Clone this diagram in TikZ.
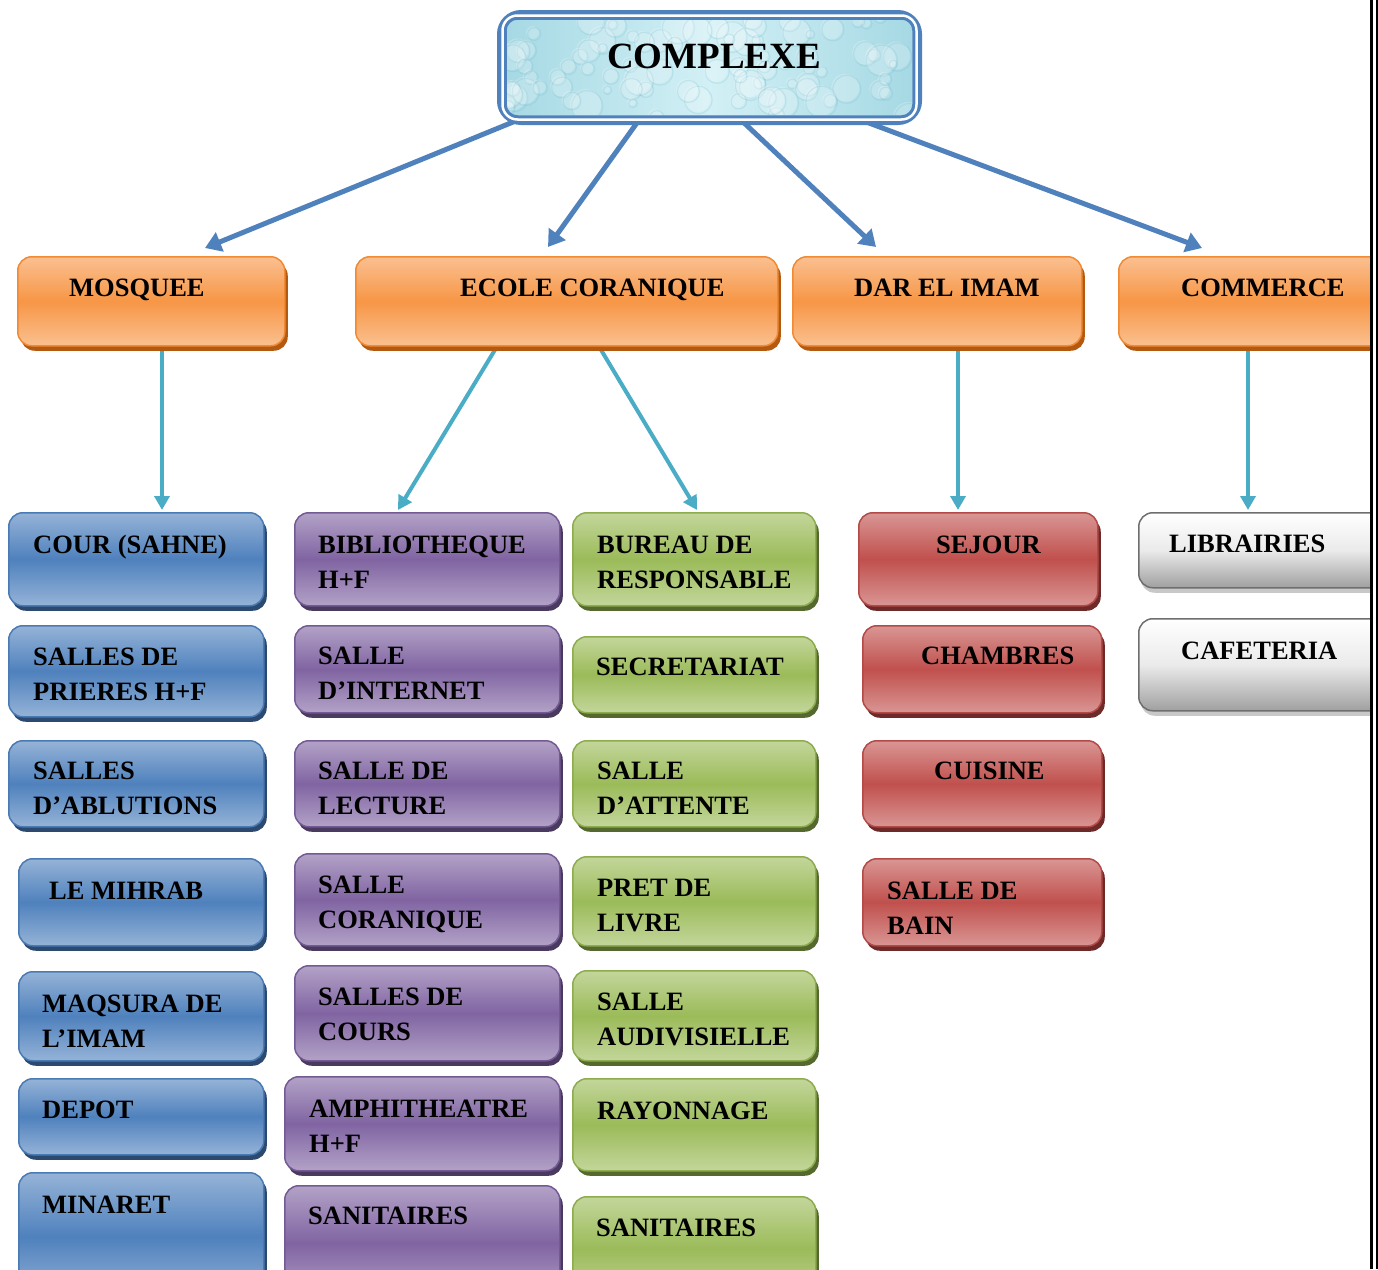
\documentclass[tikz,border=0pt]{standalone}
\usepackage{fontspec}
\setmainfont{Liberation Serif}
\usetikzlibrary{arrows.meta,shadows,backgrounds}
\definecolor{bluelt}{HTML}{95B3D7}\definecolor{bluemd}{HTML}{4F81BD}\definecolor{bluebd}{HTML}{4A7AB4}\definecolor{bluesh}{HTML}{2C4A70}
\definecolor{purplt}{HTML}{B3A2C7}\definecolor{purpmd}{HTML}{8064A2}\definecolor{purpbd}{HTML}{735A94}\definecolor{purpsh}{HTML}{4A3A5F}
\definecolor{grnlt}{HTML}{C3D69B}\definecolor{grnmd}{HTML}{9BBB59}\definecolor{grnbd}{HTML}{8CAC4E}\definecolor{grnsh}{HTML}{55692E}
\definecolor{redlt}{HTML}{D99694}\definecolor{redmd}{HTML}{C0504D}\definecolor{redbd}{HTML}{B34A47}\definecolor{redsh}{HTML}{6E2A28}
\definecolor{orlt}{HTML}{FAC090}\definecolor{ormd}{HTML}{F79646}\definecolor{orbd}{HTML}{F08A35}\definecolor{orsh}{HTML}{B35A10}
\definecolor{graybt}{HTML}{A0A0A0}\definecolor{graybd}{HTML}{6E6E6E}\definecolor{graysh}{HTML}{C8C8C8}
\definecolor{cxblue}{HTML}{4F81BD}\definecolor{cxfill}{HTML}{BCE5EE}
\definecolor{cxleft}{HTML}{A6D9E4}\definecolor{cxmid}{HTML}{D2F0F5}\definecolor{cxring}{HTML}{6FB9CC}
\definecolor{arrblue}{HTML}{4F81BD}\definecolor{arrteal}{HTML}{4BACC6}
\tikzset{
  x=1pt,y=-1pt,
  box/.style={rounded corners=14pt, line width=1.5pt, inner sep=0pt},
  bluebox/.style={box, draw=bluebd, top color=bluelt, bottom color=bluelt, middle color=bluemd,
     drop shadow={shadow xshift=3pt, shadow yshift=-5pt, fill=bluesh, opacity=1}},
  purpbox/.style={box, draw=purpbd, top color=purplt, bottom color=purplt, middle color=purpmd,
     drop shadow={shadow xshift=3pt, shadow yshift=-5pt, fill=purpsh, opacity=1}},
  grnbox/.style={box, draw=grnbd, top color=grnlt, bottom color=grnlt, middle color=grnmd,
     drop shadow={shadow xshift=3pt, shadow yshift=-5pt, fill=grnsh, opacity=1}},
  redbox/.style={box, draw=redbd, top color=redlt, bottom color=redlt, middle color=redmd,
     drop shadow={shadow xshift=3pt, shadow yshift=-5pt, fill=redsh, opacity=1}},
  orbox/.style={box, draw=orbd, top color=orlt, bottom color=orlt, middle color=ormd,
     drop shadow={shadow xshift=3pt, shadow yshift=-5pt, fill=orsh, opacity=1}},
  graybox/.style={box, draw=graybd, top color=white, bottom color=graybt, middle color=white!92!black,
     drop shadow={shadow xshift=2pt, shadow yshift=-5pt, fill=graysh, opacity=1}},
  lbl/.style={anchor=base west, inner sep=0pt, align=left, font=\bfseries\fontsize{26.5}{35}\selectfont},
  bigarr/.style={draw=arrblue, line width=5pt, -{Triangle[length=16pt,width=20pt]}},
  smallarr/.style={draw=arrteal, line width=4pt, -{Triangle[length=14pt,width=15pt]}},
}
\newcommand\bx[6]{\node[#2, anchor=north west, minimum width={(#5)-(#3)}, minimum height={(#6)-(#4)}] (#1) at (#3,#4) {};}
% #2 = x, #3 = baseline of the LAST line
\newcommand\lb[4]{\node[lbl] (#1) at (#2,#3) {#4};}
\begin{document}
\begin{tikzpicture}
\useasboundingbox (0,0) rectangle (1378,1269);
\begin{scope}
\clip (0,0) rectangle (1370,1269);
% top box
\node[draw=cxblue, line width=8pt, rounded corners=20pt, fill=cxfill, minimum width=417pt, minimum height=107pt, inner sep=0pt] (cx) at (709.5,67.5) {};
\begin{scope}
\clip[rounded corners=11pt] ([shift={(10pt,-10pt)}]cx.north west) rectangle ([shift={(-10pt,10pt)}]cx.south east);
\shade[left color=cxleft, right color=cxleft, middle color=cxmid] ([shift={(10pt,-10pt)}]cx.north west) rectangle ([shift={(-10pt,10pt)}]cx.south east);
\pgfmathsetseed{11}
\foreach \i in {1,...,90}{
  \pgfmathsetmacro\px{505+rnd*410}
  \pgfmathsetmacro\py{15+rnd*105}
  \pgfmathsetmacro\pr{4+rnd*12}
  \fill[white, opacity=0.22] (\px,\py) circle[radius=\pr];
  \draw[cxring, opacity=0.22, line width=1.2pt] (\px+1.5,\py+1.5) circle[radius=\pr];
}
\end{scope}
\draw[white, line width=2.5pt, rounded corners=15pt] ([shift={(5.5pt,-5.5pt)}]cx.north west) rectangle ([shift={(-5.5pt,5.5pt)}]cx.south east);
\draw[cxblue, line width=2.5pt, rounded corners=12pt] ([shift={(8.5pt,-8.5pt)}]cx.north west) rectangle ([shift={(-8.5pt,8.5pt)}]cx.south east);
\node[inner sep=0pt, anchor=base, font=\bfseries\fontsize{37}{40}\selectfont] (cxt) at (714,68) {COMPLEXE};
% orange
\bx{mosq}{orbox}{17}{256}{284}{345}
\bx{ecole}{orbox}{355}{256}{777}{345}
\bx{dar}{orbox}{792}{256}{1081}{345}
\bx{comm}{orbox}{1118}{256}{1390}{345}
\lb{mosqt}{69}{296}{MOSQUEE}
\lb{ecolet}{460}{296}{ECOLE CORANIQUE}
\lb{dart}{854}{296}{DAR EL IMAM}
\lb{commt}{1181}{296}{COMMERCE}
% blue column
\bx{b1}{bluebox}{8}{512}{263}{605}
\bx{b2}{bluebox}{8}{625}{263}{716}
\bx{b3}{bluebox}{8}{740}{263}{826}
\bx{b4}{bluebox}{18}{858}{263}{945}
\bx{b5}{bluebox}{18}{971}{263}{1060}
\bx{b6}{bluebox}{18}{1078}{263}{1154}
\bx{b7}{bluebox}{18}{1172}{263}{1300}
\lb{b1t}{33}{553}{COUR (SAHNE)}
\lb{b2t}{33}{700}{SALLES DE\\PRIERES H+F}
\lb{b3t}{33}{814}{SALLES\\D’ABLUTIONS}
\lb{b4t}{49}{899}{LE MIHRAB}
\lb{b5t}{42}{1047}{MAQSURA DE\\L’IMAM}
\lb{b6t}{42}{1118}{DEPOT}
\lb{b7t}{42}{1213}{MINARET}
% purple column
\bx{p1}{purpbox}{294}{512}{559}{605}
\bx{p2}{purpbox}{294}{625}{559}{712}
\bx{p3}{purpbox}{294}{740}{559}{826}
\bx{p4}{purpbox}{294}{853}{559}{945}
\bx{p5}{purpbox}{294}{965}{559}{1060}
\bx{p6}{purpbox}{284}{1076}{559}{1170}
\bx{p7}{purpbox}{284}{1185}{559}{1300}
\lb{p1t}{318}{588}{BIBLIOTHEQUE\\H+F}
\lb{p2t}{318}{699}{SALLE\\D’INTERNET}
\lb{p3t}{318}{814}{SALLE DE\\LECTURE}
\lb{p4t}{318}{928}{SALLE\\CORANIQUE}
\lb{p5t}{318}{1040}{SALLES DE\\COURS}
\lb{p6t}{309}{1152}{AMPHITHEATRE\\H+F}
\lb{p7t}{308}{1224}{SANITAIRES}
% green column
\bx{g1}{grnbox}{572}{512}{815}{605}
\bx{g2}{grnbox}{572}{636}{815}{712}
\bx{g3}{grnbox}{572}{740}{815}{826}
\bx{g4}{grnbox}{572}{856}{815}{945}
\bx{g5}{grnbox}{572}{970}{815}{1060}
\bx{g6}{grnbox}{572}{1078}{815}{1170}
\bx{g7}{grnbox}{572}{1196}{815}{1300}
\lb{g1t}{597}{588}{BUREAU DE\\RESPONSABLE}
\lb{g2t}{596}{675}{SECRETARIAT}
\lb{g3t}{597}{814}{SALLE\\D’ATTENTE}
\lb{g4t}{597}{931}{PRET DE\\LIVRE}
\lb{g5t}{597}{1045}{SALLE\\AUDIVISIELLE}
\lb{g6t}{597}{1119}{RAYONNAGE}
\lb{g7t}{596}{1236}{SANITAIRES}
% red column
\bx{r1}{redbox}{858}{512}{1097}{605}
\bx{r2}{redbox}{862}{625}{1101}{712}
\bx{r3}{redbox}{862}{740}{1101}{826}
\bx{r4}{redbox}{862}{858}{1101}{945}
\lb{r1t}{936}{553}{SEJOUR}
\lb{r2t}{921}{664}{CHAMBRES}
\lb{r3t}{934}{779}{CUISINE}
\lb{r4t}{887}{934}{SALLE DE\\BAIN}
% gray column
\bx{w1}{graybox}{1138}{512}{1390}{587}
\bx{w2}{graybox}{1138}{618}{1390}{710}
\lb{w1t}{1169}{552}{LIBRAIRIES}
\lb{w2t}{1181}{659}{CAFETERIA}
\end{scope}
% connectors behind the boxes
\begin{scope}[on background layer]
\draw[bigarr] ([xshift=21pt,yshift=5pt]cx.south west) -- ([xshift=188pt,yshift=8pt]mosq.north west);
\draw[bigarr] ([xshift=142pt,yshift=5pt]cx.south west) -- ([xshift=193pt,yshift=9pt]ecole.north west);
\draw[bigarr] ([xshift=244pt,yshift=5pt]cx.south west) -- ([xshift=84pt,yshift=9pt]dar.north west);
\draw[bigarr] ([xshift=364pt,yshift=5pt]cx.south west) -- ([xshift=84pt,yshift=8pt]comm.north west);
\draw[smallarr] ([xshift=145pt,yshift=5pt]mosq.south west) -- ([xshift=154pt,yshift=2pt]b1.north west);
\draw[smallarr] ([xshift=145pt,yshift=5pt]ecole.south west) -- ([xshift=104pt,yshift=2pt]p1.north west);
\draw[smallarr] ([xshift=241pt,yshift=5pt]ecole.south west) -- ([xshift=125pt,yshift=2pt]g1.north west);
\draw[smallarr] ([xshift=166pt,yshift=5pt]dar.south west) -- ([xshift=100pt,yshift=2pt]r1.north west);
\draw[smallarr] ([xshift=130pt,yshift=5pt]comm.south west) -- ([xshift=110pt,yshift=2pt]w1.north west);
\end{scope}
% page border lines at the right
\draw[line width=3pt] (1371,0) -- (1371,1269);
\draw[line width=2pt] (1377,0) -- (1377,1269);
\end{tikzpicture}
\end{document}
